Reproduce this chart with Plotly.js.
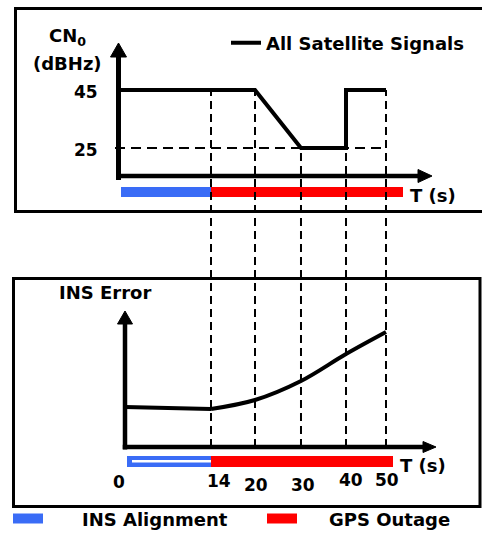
<!DOCTYPE html>
<html><head><meta charset="utf-8">
<script src="https://cdn.plot.ly/plotly-3.0.1.min.js"></script>
<style>html,body{margin:0;padding:0;background:#fff;}#chart{width:482px;height:534px;}</style>
</head><body><div id="chart"></div>
<script>
// ---------------- data ----------------
const timeLabels = ['0', '14', '20', '30', '40', '50'];           // time marks (s)
// schematic (not-to-scale) placement of each time mark on the T axis
const timeMarkPos = [0, 17.35, 25.56, 34.14, 42.54, 50];
const cn0Times  = ['0', '14', '20', '30', '40', '40', '50'];
const cn0Values = [45, 45, 45, 25, 25, 45, 45];                     // dBHz
const cn0TickVals = [45, 25];
const insTimes = ['0', '14', '20', '30', '40', '50'];
const insError = [4.0, 3.8, 4.7, 6.6, 9.3, 11.5];                   // arbitrary units
const phaseNames  = ['INS Alignment', 'GPS Outage'];
const phaseStart  = ['0', '14'];
const phaseEnd    = ['14', '50'];
const phaseColors = ['#3a6cf6', '#ff0000'];
const seriesName = 'All Satellite Signals';

// ---------------- layout helpers ----------------
const W = 482, H = 534;
const X_RANGE  = [-118 / 5.36, (482 - 118) / 5.36];
const Y2_RANGE = [-108.1, 76.03];   // CN0 axis (top panel)
const Y_RANGE  = [-8.7, 44.7];      // INS error axis (bottom panel)
const pos = lab => timeMarkPos[timeLabels.indexOf(lab)];
const pxX = p => X_RANGE[0] + p / W * (X_RANGE[1] - X_RANGE[0]);  // pixel -> x data
const PX = p => p / W;            // pixel -> paper x
const PY = p => 1 - p / H;        // pixel -> paper y
const y2paper = v => (v - Y2_RANGE[0]) / (Y2_RANGE[1] - Y2_RANGE[0]);
const y1paper = v => (v - Y_RANGE[0]) / (Y_RANGE[1] - Y_RANGE[0]);

const FONT = {family: 'DejaVu Sans', size: 18, color: '#000', weight: 'bold'};
const NUMFONT = {family: 'DejaVu Sans', size: 17, color: '#000', weight: 'bold'};

// bottom panel y-axis sits slightly right of time 0
const bottomAxisPx = 125;

// ---------------- traces ----------------
const insX = insTimes.map(pos);
insX[0] = pxX(bottomAxisPx);

const traces = [
  {
    x: cn0Times.map(pos), y: cn0Values, xaxis: 'x', yaxis: 'y2',
    mode: 'lines', name: seriesName, showlegend: true,
    line: {color: '#000', width: 4}
  },
  { // alignment phase: error stays flat
    x: insX.slice(0, 2), y: insError.slice(0, 2), xaxis: 'x', yaxis: 'y',
    mode: 'lines', name: 'INS Error', showlegend: false,
    line: {color: '#000', width: 4}
  },
  { // outage phase: error grows
    x: insX.slice(1), y: insError.slice(1), xaxis: 'x', yaxis: 'y',
    mode: 'lines', name: 'INS Error', showlegend: false,
    line: {color: '#000', width: 4, shape: 'spline', smoothing: 1}
  }
];

// ---------------- shapes ----------------
const shapes = [];
// panel frames
shapes.push({type: 'rect', xref: 'paper', yref: 'paper', x0: PX(15.5), x1: PX(500), y0: PY(8.5), y1: PY(211.5),
  line: {color: '#000', width: 3}, layer: 'below'});
shapes.push({type: 'rect', xref: 'paper', yref: 'paper', x0: PX(13.5), x1: PX(480), y0: PY(278.5), y1: PY(506.5),
  line: {color: '#000', width: 3}, layer: 'below'});

// phase bars (top and bottom)
const bars = [
  {startPad: pxX(121) - 0, endPad: pxX(403) - 50, y0: 187, y1: 197},
  {startPad: pxX(127) - 0, endPad: pxX(393) - 50, y0: 456, y1: 467}
];
bars.forEach((b, bi) => {
  phaseNames.forEach((n, i) => {
    const x0 = pos(phaseStart[i]) + (i === 0 ? b.startPad : 0);
    const x1 = pos(phaseEnd[i]) + (i === phaseNames.length - 1 ? b.endPad : 0);
    shapes.push({type: 'rect', xref: 'x', yref: 'paper', x0: x0, x1: x1, y0: PY(b.y1), y1: PY(b.y0),
      fillcolor: phaseColors[i], line: {width: 0}, layer: 'above'});
    if (bi === 1 && i === 0) {
      shapes.push({type: 'rect', xref: 'x', yref: 'paper', x0: x0 + pxX(132) - pxX(127), x1: x1,
        y0: PY(462.5), y1: PY(460), fillcolor: '#ffffff', line: {width: 0}, layer: 'above'});
    }
  });
});

// horizontal dashed reference at the lowest CN0 level
shapes.push({type: 'line', xref: 'x', yref: 'y2', x0: pxX(115), x1: pos('50'), y0: Math.min(...cn0Values), y1: Math.min(...cn0Values),
  line: {color: '#000', width: 2, dash: '10px,6px'}, layer: 'above'});

// vertical dashed drop lines at each event mark
timeLabels.slice(1).forEach(lab => {
  const level = cn0Values[cn0Times.indexOf(lab)];
  shapes.push({type: 'line', xref: 'x', yref: 'paper', x0: pos(lab), x1: pos(lab),
    y0: y1paper(0), y1: y2paper(level),
    line: {color: '#000', width: 2, dash: '8px,5px'}, layer: 'above'});
});

// axis lines with arrow heads
function tri(p) { return 'M' + p.map(q => PX(q[0]) + ',' + PY(q[1])).join('L') + 'Z'; }
function axisLine(x0, y0, x1, y1, w) {
  shapes.push({type: 'line', xref: 'paper', yref: 'paper', x0: PX(x0), x1: PX(x1), y0: PY(y0), y1: PY(y1),
    line: {color: '#000', width: w}, layer: 'above'});
}
function head(pts) {
  shapes.push({type: 'path', xref: 'paper', yref: 'paper', path: tri(pts), fillcolor: '#000',
    line: {color: '#000', width: 1}, layer: 'above'});
}
// top panel
axisLine(118.5, 180, 118.5, 55, 5);
head([[118.5, 43], [110.5, 57], [126.5, 57]]);
axisLine(116, 176, 420, 176, 4.5);
head([[432, 176], [418, 169.5], [418, 182.5]]);
// bottom panel
axisLine(125, 449.5, 125, 322, 4.5);
head([[125, 311], [117.5, 324], [132.5, 324]]);
axisLine(122.75, 447, 425, 447, 4.5);
head([[436, 447], [423, 441.5], [423, 452.5]]);

// bottom legend swatches
const legendSwatchPx = [13, 267];
const legendTextPx = [80, 327];
phaseNames.forEach((n, i) => {
  shapes.push({type: 'rect', xref: 'paper', yref: 'paper', x0: PX(legendSwatchPx[i]), x1: PX(legendSwatchPx[i] + 30),
    y0: PY(523.5), y1: PY(513.5), fillcolor: phaseColors[i], line: {width: 0}});
});

// ---------------- annotations ----------------
const ann = [];
function txt(text, x, y, xanchor, font, xref, yref) {
  ann.push({text: text, x: x, y: y, xref: xref || 'paper', yref: yref || 'paper', xanchor: xanchor || 'left',
    yanchor: 'middle', showarrow: false, font: font || FONT});
}
txt('CN<sub>0</sub>', PX(67), PY(37), 'center');
txt('(dBHz)', PX(67), PY(63.5), 'center');
cn0TickVals.forEach(v => {
  ann.push({text: String(v), x: PX(86), y: v, xref: 'paper', yref: 'y2', xanchor: 'center', yanchor: 'middle',
    yshift: -2, showarrow: false, font: NUMFONT});
});
txt('T (s)', PX(408), PY(195.5), 'left');
txt('INS Error', PX(57), PY(292), 'left');
txt('T (s)', PX(398), PY(465), 'left');
const tickDx = [1, 7.5, 1, 2, 4.5, 1];
const tickDy = [0, -1, 3, 3, -2, -2];
timeLabels.forEach((lab, i) => {
  ann.push({text: lab, x: pos(lab), y: PY(482), xref: 'x', yref: 'paper', xanchor: 'center', yanchor: 'middle',
    xshift: tickDx[i], yshift: -tickDy[i], showarrow: false, font: NUMFONT});
});
phaseNames.forEach((n, i) => txt(n, PX(legendTextPx[i]), PY(519), 'left'));

// ---------------- layout ----------------
const layout = {
  width: W, height: H,
  margin: {l: 0, r: 0, t: 0, b: 0},
  paper_bgcolor: '#fff', plot_bgcolor: 'rgba(0,0,0,0)',
  font: FONT,
  xaxis: {range: X_RANGE, visible: false, fixedrange: true},
  yaxis: {range: Y_RANGE, visible: false, fixedrange: true},
  yaxis2: {range: Y2_RANGE, overlaying: 'y', visible: false, fixedrange: true},
  showlegend: true,
  legend: {x: PX(226), y: PY(43), xanchor: 'left', yanchor: 'middle', bgcolor: 'rgba(0,0,0,0)',
    borderwidth: 0, font: FONT, itemwidth: 30},
  shapes: shapes,
  annotations: ann
};

Plotly.newPlot('chart', traces, layout, {staticPlot: true, displayModeBar: false});
</script>
</body></html>
